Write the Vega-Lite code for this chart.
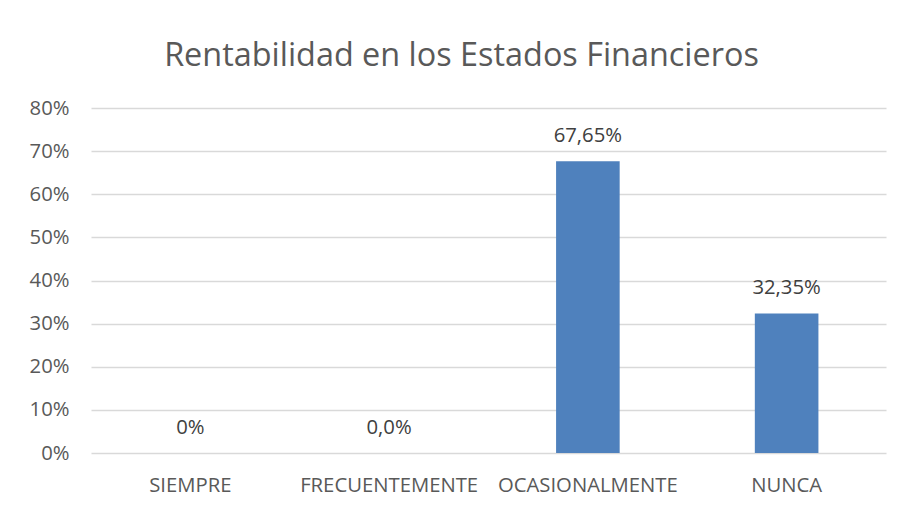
{
  "$schema": "https://vega.github.io/schema/vega-lite/v6.json",
  "width": 795,
  "height": 345,
  "autosize": {"type": "none"},
  "padding": {"left": 91, "top": 108, "right": 15, "bottom": 59},
  "background": "white",
  "title": {
    "text": "Rentabilidad en los Estados Financieros",
    "font": "Open Sans",
    "fontSize": 32.4,
    "fontWeight": "normal",
    "color": "#595959",
    "anchor": "middle",
    "dx": -27,
    "offset": 26
  },
  "data": {
    "values": [
      {"categoria": "SIEMPRE", "valor": 0, "etiqueta": "0%"},
      {"categoria": "FRECUENTEMENTE", "valor": 0, "etiqueta": "0,0%"},
      {"categoria": "OCASIONALMENTE", "valor": 0.6765, "etiqueta": "67,65%"},
      {"categoria": "NUNCA", "valor": 0.3235, "etiqueta": "32,35%"}
    ]
  },
  "encoding": {
    "x": {
      "field": "categoria",
      "type": "nominal",
      "sort": null,
      "scale": {"paddingInner": 0.68, "paddingOuter": 0.34},
      "axis": {
        "title": null,
        "labelAngle": 0,
        "labelFont": "Open Sans",
        "labelFontSize": 20.3,
        "labelColor": "#595959",
        "labelPadding": 22,
        "ticks": false,
        "domain": false
      }
    },
    "y": {
      "field": "valor",
      "type": "quantitative",
      "scale": {"domain": [0, 0.8]},
      "axis": {
        "title": null,
        "format": ".0%",
        "values": [0, 0.1, 0.2, 0.3, 0.4, 0.5, 0.6, 0.7, 0.8],
        "labelFont": "Open Sans",
        "labelFontSize": 20.3,
        "labelColor": "#595959",
        "labelPadding": 22,
        "ticks": false,
        "domain": false,
        "grid": true,
        "gridColor": "#D9D9D9",
        "gridWidth": 1.3
      }
    }
  },
  "layer": [
    {"mark": {"type": "bar", "color": "#4F81BD"}},
    {
      "mark": {
        "type": "text",
        "baseline": "bottom",
        "dy": -15,
        "font": "Open Sans",
        "fontSize": 20.3,
        "color": "#404040"
      },
      "encoding": {"text": {"field": "etiqueta"}}
    }
  ],
  "config": {"view": {"stroke": null}}
}
